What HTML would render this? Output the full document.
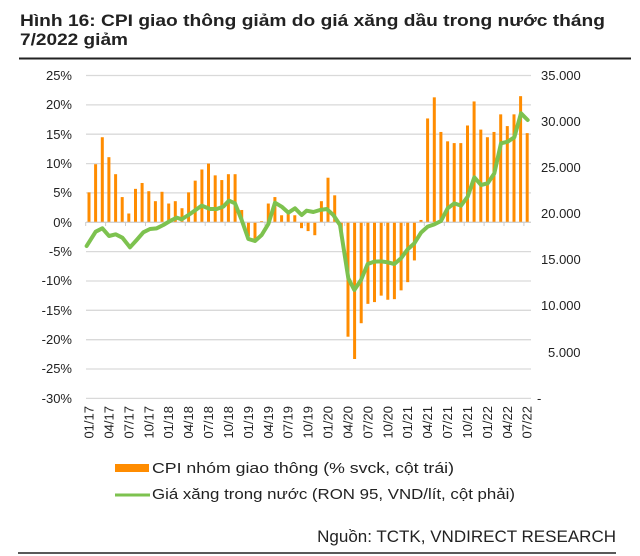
<!DOCTYPE html>
<html><head><meta charset="utf-8"><style>
body{margin:0;background:#fff;}
svg{display:block;font-family:"Liberation Sans",sans-serif;}
</style></head><body>
<svg width="640" height="556" viewBox="0 0 640 556" xmlns="http://www.w3.org/2000/svg">
<text x="20" y="26" font-size="17" font-weight="bold" fill="#222" textLength="585" lengthAdjust="spacingAndGlyphs">Hình 16: CPI giao thông giảm do giá xăng dầu trong nước tháng</text>
<text x="20" y="45" font-size="17" font-weight="bold" fill="#222" textLength="108" lengthAdjust="spacingAndGlyphs">7/2022 giảm</text>
<line x1="19" y1="58.5" x2="631" y2="58.5" stroke="#222" stroke-width="2"/>
<g stroke="#d9d9d9" stroke-width="1.3">
<line x1="86" x2="531" y1="75.5" y2="75.5"/><line x1="86" x2="531" y1="104.9" y2="104.9"/>
<line x1="86" x2="531" y1="134.2" y2="134.2"/><line x1="86" x2="531" y1="163.6" y2="163.6"/>
<line x1="86" x2="531" y1="192.9" y2="192.9"/><line x1="86" x2="531" y1="222.3" y2="222.3"/>
<line x1="86" x2="531" y1="251.6" y2="251.6"/><line x1="86" x2="531" y1="281" y2="281"/>
<line x1="86" x2="531" y1="310.3" y2="310.3"/><line x1="86" x2="531" y1="339.7" y2="339.7"/>
<line x1="86" x2="531" y1="369" y2="369"/><line x1="86" x2="531" y1="398.4" y2="398.4"/>
</g>
<g font-size="13" fill="#222" text-anchor="end">
<text x="72" y="80">25%</text><text x="72" y="109">20%</text><text x="72" y="139">15%</text>
<text x="72" y="168">10%</text><text x="72" y="197">5%</text><text x="72" y="227">0%</text>
<text x="72" y="256">-5%</text><text x="72" y="285">-10%</text><text x="72" y="315">-15%</text>
<text x="72" y="344">-20%</text><text x="72" y="373">-25%</text><text x="72" y="403">-30%</text>
</g>
<g font-size="13" fill="#222">
<text x="541" y="80">35.000</text><text x="541" y="126">30.000</text><text x="541" y="172">25.000</text>
<text x="541" y="218">20.000</text><text x="541" y="264">15.000</text><text x="541" y="310">10.000</text>
<text x="548" y="357">5.000</text><text x="537" y="403">-</text>
</g>
<g transform="translate(0,222.3) scale(1,-5.867)" fill="#ff8c00">
<rect x="87.5" y="0" width="3" height="5.1"/><rect x="94.1" y="0" width="3" height="9.9"/><rect x="100.8" y="0" width="3" height="14.5"/><rect x="107.4" y="0" width="3" height="11.1"/><rect x="114.1" y="0" width="3" height="8.2"/><rect x="120.7" y="0" width="3" height="4.3"/><rect x="127.3" y="0" width="3" height="1.5"/><rect x="134" y="0" width="3" height="5.7"/><rect x="140.6" y="0" width="3" height="6.7"/><rect x="147.3" y="0" width="3" height="5.3"/><rect x="153.9" y="0" width="3" height="3.6"/><rect x="160.5" y="0" width="3" height="5.2"/><rect x="167.2" y="0" width="3" height="3.2"/><rect x="173.8" y="0" width="3" height="3.6"/><rect x="180.5" y="0" width="3" height="2.4"/><rect x="187.1" y="0" width="3" height="5.1"/><rect x="193.7" y="0" width="3" height="7.1"/><rect x="200.4" y="0" width="3" height="9.0"/><rect x="207" y="0" width="3" height="10.0"/><rect x="213.7" y="0" width="3" height="8.0"/><rect x="220.3" y="0" width="3" height="7.2"/><rect x="226.9" y="0" width="3" height="8.2"/><rect x="233.6" y="0" width="3" height="8.2"/><rect x="240.2" y="0" width="3" height="2.1"/><rect x="246.9" y="-2.4" width="3" height="2.4"/><rect x="253.5" y="-2.8" width="3" height="2.8"/><rect x="260.1" y="0" width="3" height="0.2"/><rect x="266.8" y="0" width="3" height="3.2"/><rect x="273.4" y="0" width="3" height="4.3"/><rect x="280.1" y="0" width="3" height="1.2"/><rect x="286.7" y="0" width="3" height="1.4"/><rect x="293.3" y="0" width="3" height="1.2"/><rect x="300" y="-1.0" width="3" height="1.0"/><rect x="306.6" y="-1.5" width="3" height="1.5"/><rect x="313.3" y="-2.2" width="3" height="2.2"/><rect x="319.9" y="0" width="3" height="3.6"/><rect x="326.5" y="0" width="3" height="7.6"/><rect x="333.2" y="0" width="3" height="4.6"/><rect x="339.8" y="-2.4" width="3" height="2.4"/><rect x="346.5" y="-19.5" width="3" height="19.5"/><rect x="353.1" y="-23.3" width="3" height="23.3"/><rect x="359.7" y="-17.2" width="3" height="17.2"/><rect x="366.4" y="-13.9" width="3" height="13.9"/><rect x="373" y="-13.6" width="3" height="13.6"/><rect x="379.7" y="-12.5" width="3" height="12.5"/><rect x="386.3" y="-13.2" width="3" height="13.2"/><rect x="392.9" y="-13.1" width="3" height="13.1"/><rect x="399.6" y="-11.6" width="3" height="11.6"/><rect x="406.2" y="-10.2" width="3" height="10.2"/><rect x="412.9" y="-6.5" width="3" height="6.5"/><rect x="419.5" y="0" width="3" height="0.4"/><rect x="426.1" y="0" width="3" height="17.7"/><rect x="432.8" y="0" width="3" height="21.3"/><rect x="439.4" y="0" width="3" height="15.4"/><rect x="446.1" y="0" width="3" height="13.8"/><rect x="452.7" y="0" width="3" height="13.5"/><rect x="459.3" y="0" width="3" height="13.5"/><rect x="466" y="0" width="3" height="16.5"/><rect x="472.6" y="0" width="3" height="20.6"/><rect x="479.3" y="0" width="3" height="15.8"/><rect x="485.9" y="0" width="3" height="14.5"/><rect x="492.5" y="0" width="3" height="15.4"/><rect x="499.2" y="0" width="3" height="18.4"/><rect x="505.8" y="0" width="3" height="16.4"/><rect x="512.5" y="0" width="3" height="18.4"/><rect x="519.1" y="0" width="3" height="21.5"/><rect x="525.7" y="0" width="3" height="15.2"/>
</g>
<line x1="86" x2="531" y1="222.3" y2="222.3" stroke="#d0d0d0" stroke-width="1"/>
<g stroke="#ccc" stroke-width="1">
<line x1="85.7" x2="85.7" y1="222" y2="226"/><line x1="105.6" x2="105.6" y1="222" y2="226"/><line x1="125.5" x2="125.5" y1="222" y2="226"/><line x1="145.5" x2="145.5" y1="222" y2="226"/><line x1="165.4" x2="165.4" y1="222" y2="226"/><line x1="185.3" x2="185.3" y1="222" y2="226"/><line x1="205.2" x2="205.2" y1="222" y2="226"/><line x1="225.1" x2="225.1" y1="222" y2="226"/><line x1="245.1" x2="245.1" y1="222" y2="226"/><line x1="265" x2="265" y1="222" y2="226"/><line x1="284.9" x2="284.9" y1="222" y2="226"/><line x1="304.8" x2="304.8" y1="222" y2="226"/><line x1="324.7" x2="324.7" y1="222" y2="226"/><line x1="344.7" x2="344.7" y1="222" y2="226"/><line x1="364.6" x2="364.6" y1="222" y2="226"/><line x1="384.5" x2="384.5" y1="222" y2="226"/><line x1="404.4" x2="404.4" y1="222" y2="226"/><line x1="424.3" x2="424.3" y1="222" y2="226"/><line x1="444.3" x2="444.3" y1="222" y2="226"/><line x1="464.2" x2="464.2" y1="222" y2="226"/><line x1="484.1" x2="484.1" y1="222" y2="226"/><line x1="504" x2="504" y1="222" y2="226"/><line x1="523.9" x2="523.9" y1="222" y2="226"/>
</g>
<g transform="translate(80,60) scale(0.33333)">
<polyline fill="none" stroke="#7dc24f" stroke-width="12" stroke-linejoin="round" stroke-linecap="round" points="20,558 47,515 67,505 87,528 107,523 127,533 150,562 170,540 190,517 210,507 230,505 250,495 270,483 290,473 305,478 330,462 365,437 390,447 410,447 430,440 447,422 465,430 485,480 505,537 525,543 545,525 565,492 585,428 605,440 625,458 645,445 665,465 680,452 700,456 720,450 740,447 760,465 780,495 805,655 823,690 843,660 863,612 883,605 903,604 923,607 943,612 963,595 983,568 1003,550 1023,518 1043,500 1063,493 1083,483 1103,445 1123,430 1143,437 1163,410 1183,352 1203,375 1223,370 1243,340 1263,250 1283,245 1303,232 1323,160 1343,180"/>
</g>
<g font-size="13" fill="#222" text-anchor="end">
<text transform="translate(93.5,406) rotate(-90)">01/17</text><text transform="translate(113.4,406) rotate(-90)">04/17</text><text transform="translate(133.3,406) rotate(-90)">07/17</text><text transform="translate(153.3,406) rotate(-90)">10/17</text><text transform="translate(173.2,406) rotate(-90)">01/18</text><text transform="translate(193.1,406) rotate(-90)">04/18</text><text transform="translate(213,406) rotate(-90)">07/18</text><text transform="translate(232.9,406) rotate(-90)">10/18</text><text transform="translate(252.9,406) rotate(-90)">01/19</text><text transform="translate(272.8,406) rotate(-90)">04/19</text><text transform="translate(292.7,406) rotate(-90)">07/19</text><text transform="translate(312.6,406) rotate(-90)">10/19</text><text transform="translate(332.5,406) rotate(-90)">01/20</text><text transform="translate(352.5,406) rotate(-90)">04/20</text><text transform="translate(372.4,406) rotate(-90)">07/20</text><text transform="translate(392.3,406) rotate(-90)">10/20</text><text transform="translate(412.2,406) rotate(-90)">01/21</text><text transform="translate(432.1,406) rotate(-90)">04/21</text><text transform="translate(452.1,406) rotate(-90)">07/21</text><text transform="translate(472,406) rotate(-90)">10/21</text><text transform="translate(491.9,406) rotate(-90)">01/22</text><text transform="translate(511.8,406) rotate(-90)">04/22</text><text transform="translate(531.7,406) rotate(-90)">07/22</text>
</g>
<rect x="115" y="464" width="34" height="8" fill="#ff8c00"/>
<text x="152" y="473" font-size="15" fill="#222" textLength="302" lengthAdjust="spacingAndGlyphs">CPI nhóm giao thông (% svck, cột trái)</text>
<line x1="115" y1="495" x2="150" y2="495" stroke="#7dc24f" stroke-width="3"/>
<text x="152" y="499" font-size="15" fill="#222" textLength="363" lengthAdjust="spacingAndGlyphs">Giá xăng trong nước (RON 95, VND/lít, cột phải)</text>
<text x="616" y="542" font-size="17" fill="#222" text-anchor="end">Nguồn: TCTK, VNDIRECT RESEARCH</text>
<line x1="18" y1="553" x2="616" y2="553" stroke="#222" stroke-width="1.5"/>
</svg>
</body></html>
